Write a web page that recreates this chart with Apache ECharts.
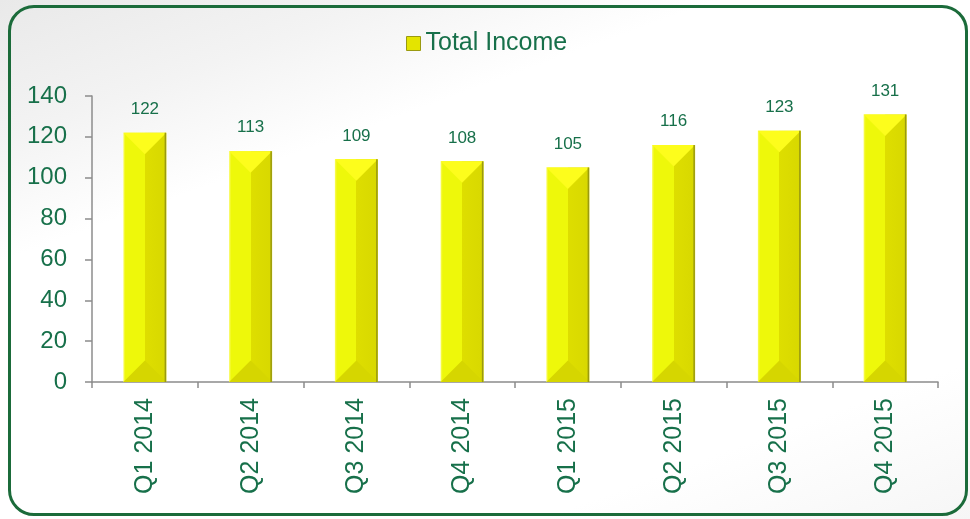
<!DOCTYPE html>
<html lang="en">
<head>
	<meta charset="UTF-8">
	<title>Total Income</title>
	<script src="https://cdn.jsdelivr.net/npm/echarts@6/dist/echarts.min.js"></script>
	<style>
		html,body{margin:0;padding:0;background:#fff;}
		#box{position:absolute;left:0;top:0;width:970px;height:519px;
			background:linear-gradient(160deg,#e9e9e9 0%,#f3f3f3 16%,#ffffff 30%,#ffffff 82%,#f6f6f6 100%);}
		#frame{position:absolute;left:8px;top:5px;width:954px;height:505px;border:3px solid #1b6b3a;border-radius:26px;}
		#main{position:absolute;left:0;top:0;width:970px;height:519px;}
	</style>
</head>
<body>
	<div id="box"></div>
	<div id="frame"></div>
	<div id="main"></div>
	<script>
		var quarters = ['Q1 2014','Q2 2014','Q3 2014','Q4 2014','Q1 2015','Q2 2015','Q3 2015','Q4 2015'];
		var totalIncome = [122,113,109,108,105,116,123,131];
		var green = '#17704a';
		var barW = 43;

		// bevel on top / bottom of every bar
		function bevel(params, api){
			var top = api.coord([api.value(0), api.value(1)]);
			var bot = api.coord([api.value(0), 0]);
			var x0 = top[0] - barW/2, x1 = top[0] + barW/2, h = barW/2;
			return {
				type: 'group',
				children: [
					{type:'polygon', shape:{points:[[x0,top[1]],[x1,top[1]],[top[0],top[1]+h]]},
						style:{fill:'#fdfd1c'}},
					{type:'polygon', shape:{points:[[x0,bot[1]],[x1,bot[1]],[top[0],bot[1]-h]]},
						style:{fill:'#d6d600'}},
					{type:'line', shape:{x1:x1-1,y1:top[1],x2:x1-1,y2:bot[1]},
						style:{stroke:'#9a9a10',lineWidth:1.5}}
				]
			};
		}

		var myChart = echarts.init(document.getElementById('main'));
		var option = {
			animation: false,
			legend: {
				top: 31,
				left: 406,
				padding: 0,
				itemWidth: 14,
				itemHeight: 14,
				data: [{name:'Total Income', icon:'rect', itemStyle:{color:'#e4e400', borderColor:'#9a9a10', borderWidth:1}}],
				textStyle: {color: green, fontSize: 25, fontFamily: 'Liberation Sans'}
			},
			grid: {left: 92, right: 32, top: 96, bottom: 137},
			xAxis: {
				type: 'category',
				data: quarters,
				axisLine: {lineStyle: {color: '#8c8c8c', width: 1.5}},
				axisTick: {show: true, length: 6, lineStyle: {color: '#8c8c8c', width: 1.5}},
				axisLabel: {rotate: 90, margin: 16, color: green, fontSize: 25, fontFamily: 'Liberation Sans'}
			},
			yAxis: {
				type: 'value',
				min: 0, max: 140, interval: 20,
				splitLine: {show: false},
				axisLine: {show: true, lineStyle: {color: '#8c8c8c', width: 1.5}},
				axisTick: {show: true, length: 7, lineStyle: {color: '#8c8c8c', width: 1.5}},
				axisLabel: {margin: 25, color: green, fontSize: 24, fontFamily: 'Liberation Sans'}
			},
			series: [{
				name: 'Total Income',
				type: 'bar',
				data: totalIncome,
				barWidth: barW,
				itemStyle: {
					color: {
						type: 'linear', x: 0, y: 0, x2: 1, y2: 0,
						colorStops: [
							{offset: 0, color: '#fafb60'},
							{offset: 0.05, color: '#eef80a'},
							{offset: 0.5, color: '#eef80a'},
							{offset: 0.5, color: '#dede00'},
							{offset: 1, color: '#d8d800'}
						]
					}
				},
				label: {
					show: true, position: 'top', distance: 15,
					color: green, fontSize: 17, fontFamily: 'Liberation Sans'
				},
				z: 2
			}, {
				name: 'bevel',
				type: 'custom',
				data: totalIncome.map(function(v, i){ return [i, v]; }),
				renderItem: bevel,
				silent: true,
				z: 3
			}]
		};
		myChart.setOption(option);
	</script>
</body>
</html>
